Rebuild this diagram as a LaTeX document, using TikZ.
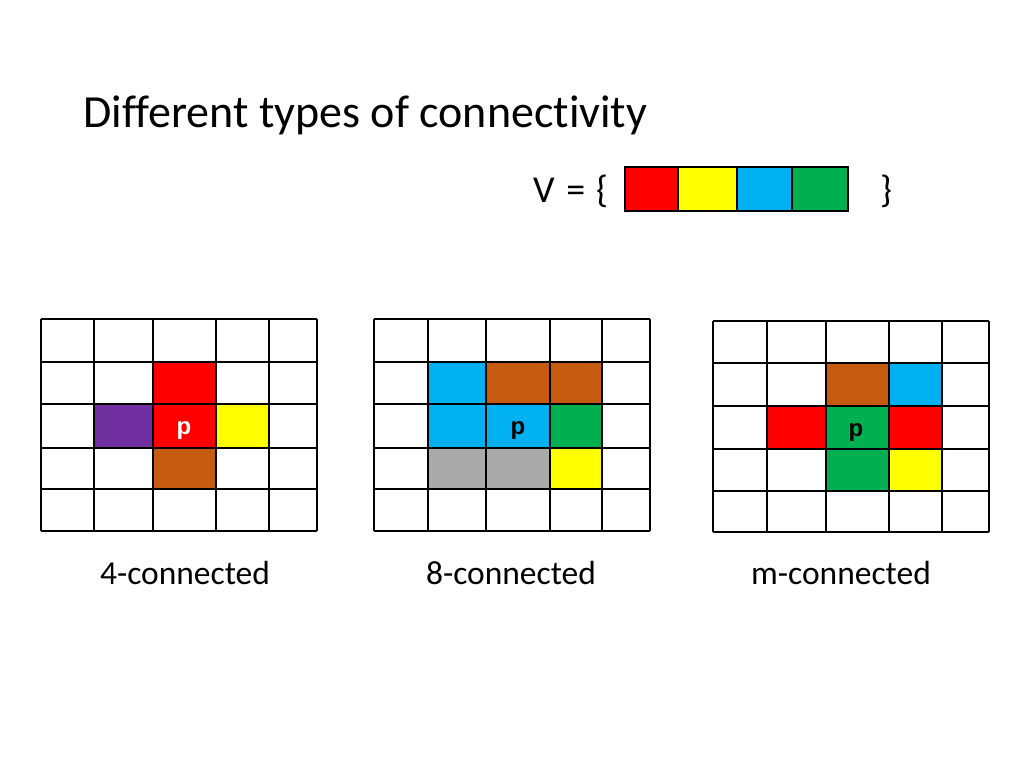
\documentclass[tikz,border=0pt]{standalone}
\usepackage{fontspec}
\setmainfont[Ligatures=NoCommon]{Carlito}
\newfontfamily\pfont{Liberation Sans}
\definecolor{cred}{RGB}{255,0,0}
\definecolor{cyellow}{RGB}{255,255,0}
\definecolor{cblue}{RGB}{0,176,240}
\definecolor{cgreen}{RGB}{0,176,80}
\definecolor{cbrown}{RGB}{197,90,17}
\definecolor{cpurple}{RGB}{112,48,160}
\definecolor{cgray}{RGB}{170,170,170}
\tikzset{
  gridline/.style={line width=1.4pt, black},
  title/.style={font=\fontsize{46}{50}\selectfont, anchor=base west, inner sep=0pt},
  label/.style={font=\fontsize{33.5}{38}\selectfont, anchor=base, inner sep=0pt},
  ptext/.style={font=\pfont\bfseries\fontsize{24}{28}\selectfont, inner sep=0pt},
  vtext/.style={font=\fontsize{38}{42}\selectfont, anchor=base west, inner sep=0pt}
}
\begin{document}
\begin{tikzpicture}[x=1pt,y=-1pt]
\useasboundingbox[fill=white] (0,0) rectangle (1024,768);
\node[title] (title) at (83,127) {Different types of connectivity};
% V set
\node[vtext] (vset) at (533,202) {V\hspace{0.08em} =\hspace{0.06em} \{};
\node[vtext] (vclose) at (880,202) {\}};
\fill[cred] (625,167) rectangle (678,211);
\fill[cyellow] (678,167) rectangle (737,211);
\fill[cblue] (737,167) rectangle (792,211);
\fill[cgreen] (792,167) rectangle (848,211);
\draw[line width=1.2pt] (625,167) rectangle (848,211);
\foreach \x in {678,737,792} \draw[line width=1.2pt] (\x,167) -- (\x,211);
% Grid 1 : 4-connected
\def\xa{41}\def\xb{94}\def\xc{153}\def\xd{216}\def\xe{269}\def\xf{317}
\def\ya{319}\def\yb{362}\def\yc{404}\def\yd{448}\def\ye{489}\def\yf{531}
\fill[cred] (\xc,\yb) rectangle (\xd,\yd);
\fill[cpurple] (\xb,\yc) rectangle (\xc,\yd);
\fill[cyellow] (\xd,\yc) rectangle (\xe,\yd);
\fill[cbrown] (\xc,\yd) rectangle (\xd,\ye);
\foreach \x in {\xa,\xb,\xc,\xd,\xe,\xf} \draw[gridline] (\x,\ya) -- (\x,\yf);
\foreach \y in {\ya,\yb,\yc,\yd,\ye,\yf} \draw[gridline] (\xa,\y) -- (\xf,\y);
\node[ptext, white, anchor=base] (p1) at (184,434) {p};
\node[label] (l1) at (185,584) {4-connected};
% Grid 2 : 8-connected
\def\xa{374}\def\xb{428}\def\xc{486}\def\xd{550}\def\xe{602}\def\xf{650}
\def\ya{319}\def\yb{362}\def\yc{404}\def\yd{448}\def\ye{489}\def\yf{531}
\fill[cblue] (\xb,\yb) rectangle (\xc,\yd);
\fill[cblue] (\xc,\yc) rectangle (\xd,\yd);
\fill[cbrown] (\xc,\yb) rectangle (\xe,\yc);
\fill[cgreen] (\xd,\yc) rectangle (\xe,\yd);
\fill[cgray] (\xb,\yd) rectangle (\xd,\ye);
\fill[cyellow] (\xd,\yd) rectangle (\xe,\ye);
\foreach \x in {\xa,\xb,\xc,\xd,\xe,\xf} \draw[gridline] (\x,\ya) -- (\x,\yf);
\foreach \y in {\ya,\yb,\yc,\yd,\ye,\yf} \draw[gridline] (\xa,\y) -- (\xf,\y);
\node[ptext, black, anchor=base] (p2) at (518,434) {p};
\node[label] (l2) at (511,584) {8-connected};
% Grid 3 : m-connected
\def\xa{713}\def\xb{767}\def\xc{826}\def\xd{889}\def\xe{942}\def\xf{989}
\def\ya{321}\def\yb{363}\def\yc{406}\def\yd{449}\def\ye{491}\def\yf{532}
\fill[cbrown] (\xc,\yb) rectangle (\xd,\yc);
\fill[cblue] (\xd,\yb) rectangle (\xe,\yc);
\fill[cred] (\xb,\yc) rectangle (\xc,\yd);
\fill[cred] (\xd,\yc) rectangle (\xe,\yd);
\fill[cgreen] (\xc,\yc) rectangle (\xd,\ye);
\fill[cyellow] (\xd,\yd) rectangle (\xe,\ye);
\foreach \x in {\xa,\xb,\xc,\xd,\xe,\xf} \draw[gridline] (\x,\ya) -- (\x,\yf);
\foreach \y in {\ya,\yb,\yc,\yd,\ye,\yf} \draw[gridline] (\xa,\y) -- (\xf,\y);
\node[ptext, black, anchor=base] (p3) at (856,436) {p};
\node[label] (l3) at (841,584) {m-connected};
\end{tikzpicture}
\end{document}
